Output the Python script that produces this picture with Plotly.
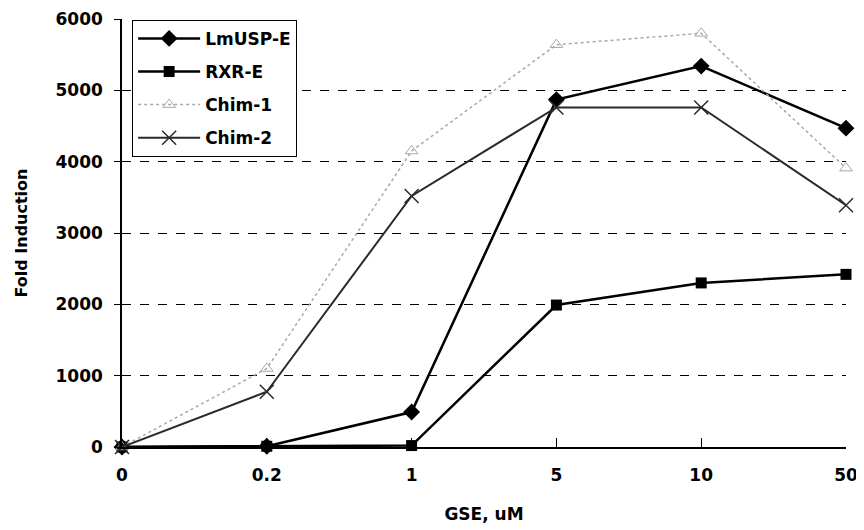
import plotly.graph_objects as go

# GSE concentration (uM), plotted as evenly spaced categories
doses = ["0", "0.2", "1", "5", "10", "50"]

# Fold induction
lmusp_e = [0, 10, 490, 4870, 5340, 4470]
rxr_e = [0, 10, 20, 1990, 2300, 2420]
chim_1 = [0, 1100, 4150, 5640, 5800, 3910]
chim_2 = [0, 775, 3520, 4760, 4760, 3390]

FONT = "DejaVu Sans, Liberation Sans, Arial, sans-serif"

fig = go.Figure()

fig.add_trace(go.Scatter(x=doses, y=lmusp_e, name="LmUSP-E", mode="lines+markers",
                         line=dict(color="black", width=2.5),
                         marker=dict(symbol="diamond", size=13, color="black"),
                         legendgroup="a", cliponaxis=False))
fig.add_trace(go.Scatter(x=doses, y=rxr_e, name="RXR-E", mode="lines+markers",
                         line=dict(color="black", width=2.5),
                         marker=dict(symbol="square", size=11, color="black"),
                         legendgroup="b", cliponaxis=False))
fig.add_trace(go.Scatter(x=doses, y=chim_1, name="Chim-1", mode="lines+markers",
                         line=dict(color="#a8a8a8", width=1.5, dash="dot"),
                         marker=dict(symbol="triangle-up-open", size=11, color="#a8a8a8",
                                     line=dict(width=1)),
                         legendgroup="c", cliponaxis=False))
fig.add_trace(go.Scatter(x=doses, y=chim_2, name="Chim-2", mode="lines+markers",
                         line=dict(color="#2a2a2a", width=2),
                         marker=dict(symbol="x-thin-open", size=14, color="#2a2a2a",
                                     line=dict(width=1.5, color="#2a2a2a")),
                         legendgroup="d", cliponaxis=False))

# page body has an 8px margin, so the figure is sized 8px short of the window
fig.update_layout(
    width=856, height=522,
    margin=dict(l=114, r=18, t=11, b=83),
    plot_bgcolor="white", paper_bgcolor="white",
    font=dict(family=FONT, color="black", weight="bold"),
    legend=dict(x=0.014, y=0.998, xanchor="left", yanchor="top",
                bgcolor="white", bordercolor="black", borderwidth=1,
                font=dict(size=17, family=FONT, color="black", weight="bold"),
                itemwidth=62, tracegroupgap=8),
)

fig.update_xaxes(
    type="category", range=[0, 5], automargin=False,
    showline=True, linecolor="black", linewidth=1.5,
    ticks="inside", ticklen=9, tickcolor="black",
    showgrid=False, zeroline=False,
    tickfont=dict(size=17, family=FONT, weight="bold"),
    ticklabelstandoff=12,
    title=dict(text="GSE, uM", font=dict(size=17, family=FONT, weight="bold"), standoff=24),
)
fig.update_yaxes(
    range=[0, 6000], dtick=1000, automargin=False,
    showline=True, linecolor="black", linewidth=1.5,
    ticks="outside", ticklen=6, tickcolor="black",
    showgrid=True, gridcolor="black", griddash="dash", gridwidth=1,
    zeroline=False,
    tickfont=dict(size=17, family=FONT, weight="bold"),
    ticklabelstandoff=8,
    title=dict(text="Fold Induction", font=dict(size=16, family=FONT, weight="bold"), standoff=24),
)

fig.write_html("out.html")
